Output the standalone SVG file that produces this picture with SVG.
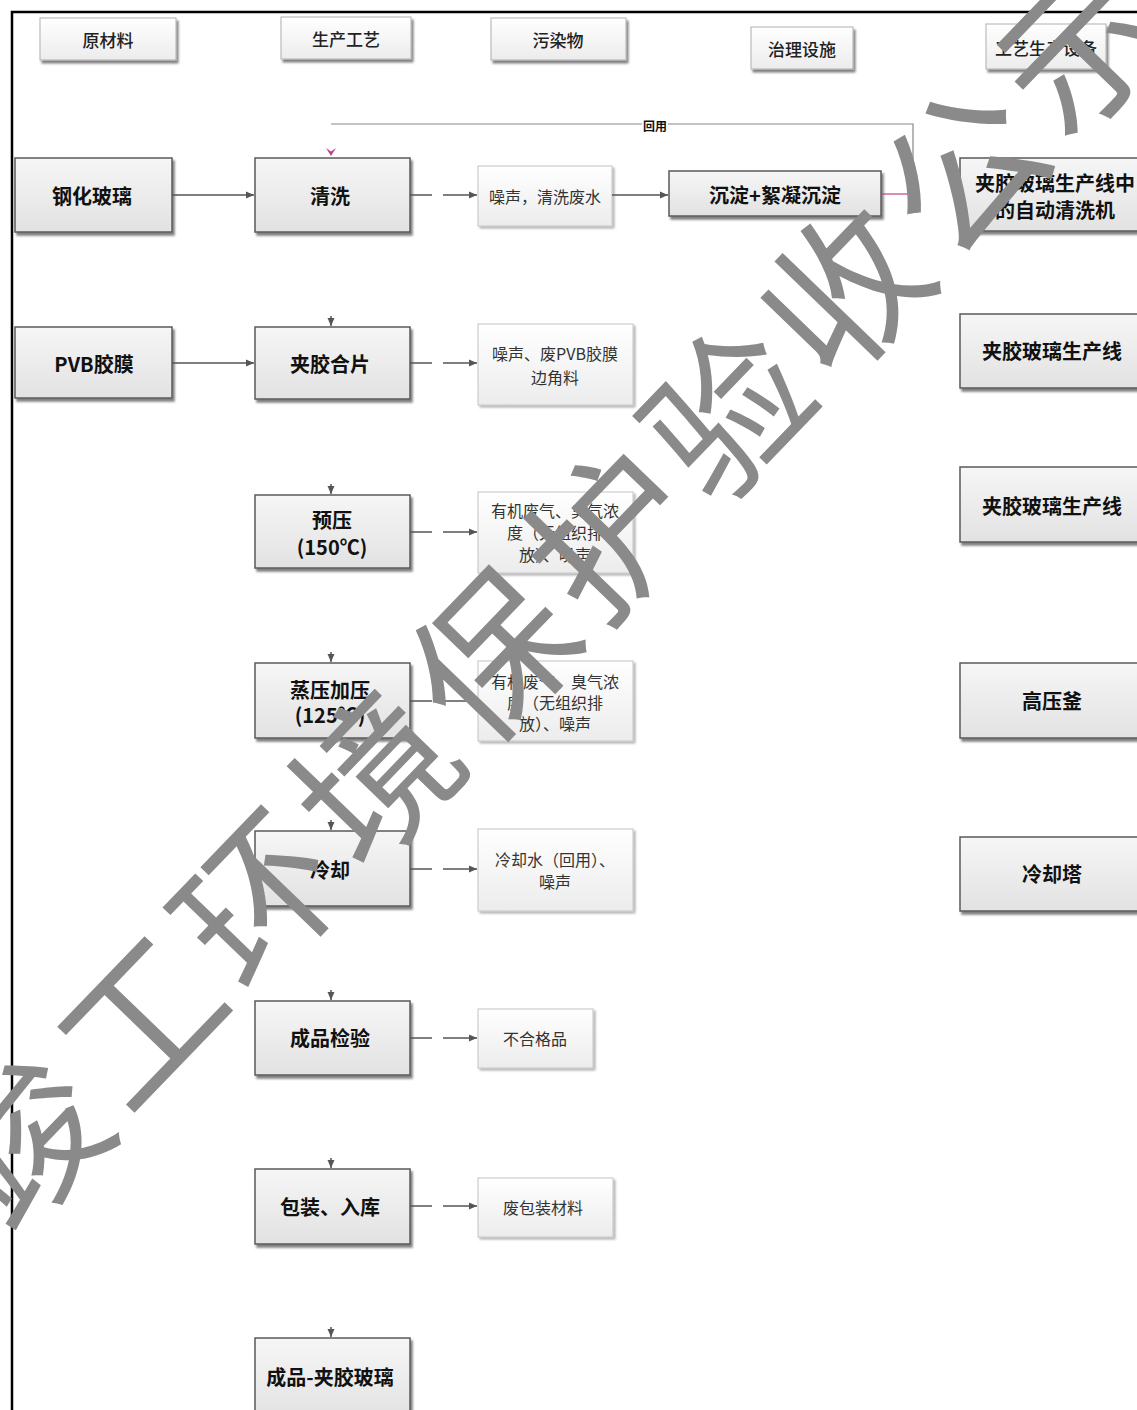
<svg xmlns="http://www.w3.org/2000/svg" width="1137" height="1410" viewBox="0 0 1137 1410">
<style>
.t{font-family:"Noto Sans CJK SC","Liberation Sans",sans-serif;text-anchor:middle;dominant-baseline:central;fill:#111}
.b{font-weight:700;font-size:20px}
.h{font-size:17px;fill:#222;font-weight:500}
.p{font-size:16px;fill:#333}
.proc rect{fill:url(#gp);stroke:#5a5a5a;stroke-width:1.5;filter:url(#sh)}
.pol rect{fill:url(#gw);stroke:#c4c4c4;stroke-width:1;filter:url(#sh2)}
.hdr rect{fill:url(#gw);stroke:#b0b0b0;stroke-width:1;filter:url(#sh)}
.c{fill:none;stroke:#555;stroke-width:1.5}
.d{fill:none;stroke:#555;stroke-width:1.5;stroke-dasharray:22 11 60}
</style>
<defs>
<linearGradient id="gp" x1="0" y1="0" x2="0" y2="1"><stop offset="0" stop-color="#f6f6f6"/><stop offset="1" stop-color="#e2e2e2"/></linearGradient>
<linearGradient id="gw" x1="0" y1="0" x2="0" y2="1"><stop offset="0" stop-color="#ffffff"/><stop offset="1" stop-color="#ececec"/></linearGradient>
<filter id="sh" x="-10%" y="-10%" width="130%" height="130%"><feDropShadow dx="2" dy="3" stdDeviation="1.2" flood-color="#000" flood-opacity="0.5"/></filter>
<filter id="sh2" x="-10%" y="-10%" width="130%" height="130%"><feDropShadow dx="2" dy="2" stdDeviation="1.2" flood-color="#000" flood-opacity="0.3"/></filter>
<marker id="ar" viewBox="0 0 8 8" refX="8" refY="4" markerWidth="8" markerHeight="8" markerUnits="userSpaceOnUse" orient="auto"><path d="M0,0.5 L8,4 L0,7.5 z" fill="#555"/></marker>
<marker id="arp" viewBox="0 0 10 10" refX="5" refY="9" markerWidth="10" markerHeight="10" markerUnits="userSpaceOnUse" orient="0"><path d="M0,1 L5,9 L10,1 L5,4.5 z" fill="#c0408a"/></marker>
</defs>
<rect x="0" y="0" width="1137" height="1410" fill="#fff"/>
<path d="M12,1410 V12 H1137" fill="none" stroke="#000" stroke-width="2.5"/>

<g id="h1" class="hdr"><rect x="40" y="18" width="136" height="42"/><text class="t h" x="108" y="39">原材料</text></g>
<g id="h2" class="hdr"><rect x="281" y="17" width="130" height="42"/><text class="t h" x="346" y="38">生产工艺</text></g>
<g id="h3" class="hdr"><rect x="491" y="18" width="135" height="42"/><text class="t h" x="558" y="39">污染物</text></g>
<g id="h4" class="hdr"><rect x="751" y="27" width="102" height="42"/><text class="t h" x="802" y="48">治理设施</text></g>
<g id="h5" class="hdr"><rect x="986" y="24" width="120" height="45"/><text class="t h" x="1046" y="47">工艺生产设备</text></g>

<g id="r1" class="proc"><rect x="15" y="158" width="157" height="74"/><text class="t b" x="92" y="195">钢化玻璃</text></g>
<g id="r2" class="proc"><rect x="15" y="327" width="157" height="71"/><text class="t b" x="94" y="363">PVB胶膜</text></g>

<g id="s1" class="proc"><rect x="255" y="158" width="155" height="74"/><text class="t b" x="330" y="195">清洗</text></g>
<g id="s2" class="proc"><rect x="255" y="327" width="155" height="72"/><text class="t b" x="330" y="363">夹胶合片</text></g>
<g id="s3" class="proc"><rect x="255" y="495" width="155" height="73"/><text class="t b" x="332" y="519">预压</text><text class="t b" x="332" y="546">(150℃)</text></g>
<g id="s4" class="proc"><rect x="255" y="663" width="155" height="75"/><text class="t b" x="330" y="689">蒸压加压</text><text class="t b" x="330" y="714">(125℃)</text></g>
<g id="s5" class="proc"><rect x="255" y="831" width="155" height="75"/><text class="t b" x="330" y="869">冷却</text></g>
<g id="s6" class="proc"><rect x="255" y="1001" width="155" height="74"/><text class="t b" x="330" y="1037">成品检验</text></g>
<g id="s7" class="proc"><rect x="255" y="1169" width="155" height="75"/><text class="t b" x="330" y="1206">包装、入库</text></g>
<g id="s8" class="proc"><rect x="255" y="1338" width="155" height="80"/><text class="t b" x="330" y="1376">成品-夹胶玻璃</text></g>

<g id="p1" class="pol"><rect x="478" y="166" width="134" height="60"/><text class="t p" x="545" y="196">噪声，清洗废水</text></g>
<g id="p2" class="pol"><rect x="478" y="324" width="155" height="81"/><text class="t p" x="555" y="353">噪声、废PVB胶膜</text><text class="t p" x="555" y="377">边角料</text></g>
<g id="p3" class="pol"><rect x="478" y="492" width="155" height="81"/><text class="t p" x="555" y="510">有机废气、臭气浓</text><text class="t p" x="555" y="532">度（无组织排</text><text class="t p" x="555" y="554">放）、噪声</text></g>
<g id="p4" class="pol"><rect x="478" y="661" width="155" height="80"/><text class="t p" x="555" y="681">有机废气、臭气浓</text><text class="t p" x="555" y="702">度（无组织排</text><text class="t p" x="555" y="723">放）、噪声</text></g>
<g id="p5" class="pol"><rect x="478" y="829" width="155" height="82"/><text class="t p" x="555" y="859">冷却水（回用）、</text><text class="t p" x="555" y="881">噪声</text></g>
<g id="p6" class="pol"><rect x="478" y="1009" width="115" height="59"/><text class="t p" x="535" y="1038">不合格品</text></g>
<g id="p7" class="pol"><rect x="478" y="1178" width="135" height="59"/><text class="t p" x="543" y="1207">废包装材料</text></g>

<g id="t1" class="proc"><rect x="669" y="171" width="212" height="45"/><text class="t b" x="775" y="194">沉淀+絮凝沉淀</text></g>

<g id="e1" class="proc"><rect x="960" y="158" width="190" height="73"/><text class="t b" x="1055" y="182">夹胶玻璃生产线中</text><text class="t b" x="1055" y="209">的自动清洗机</text></g>
<g id="e2" class="proc"><rect x="960" y="314" width="190" height="74"/><text class="t b" x="1052" y="350">夹胶玻璃生产线</text></g>
<g id="e3" class="proc"><rect x="960" y="467" width="190" height="75"/><text class="t b" x="1052" y="505">夹胶玻璃生产线</text></g>
<g id="e4" class="proc"><rect x="960" y="663" width="190" height="75"/><text class="t b" x="1052" y="700">高压釜</text></g>
<g id="e5" class="proc"><rect x="960" y="837" width="190" height="74"/><text class="t b" x="1052" y="873">冷却塔</text></g>

<g id="connectors">
<path class="c" d="M172,195 H254" marker-end="url(#ar)"/>
<path class="c" d="M172,363 H254" marker-end="url(#ar)"/>
<path class="d" d="M410,195 H477" marker-end="url(#ar)"/>
<path class="d" d="M410,363 H477" marker-end="url(#ar)"/>
<path class="d" d="M410,532 H477" marker-end="url(#ar)"/>
<path class="d" d="M410,701 H477" marker-end="url(#ar)"/>
<path class="d" d="M410,869 H477" marker-end="url(#ar)"/>
<path class="d" d="M410,1038 H477" marker-end="url(#ar)"/>
<path class="d" d="M410,1206 H477" marker-end="url(#ar)"/>
<path class="c" d="M612,195 H668" marker-end="url(#ar)"/>
<path d="M881,194 H913" fill="none" stroke="#c0408a" stroke-width="1.2"/>
<path d="M913,194 V124 H331" fill="none" stroke="#888" stroke-width="1.2"/>
<path d="M331,146 V156" fill="none" stroke="none" marker-end="url(#arp)"/>
<rect x="642" y="117" width="26" height="16" fill="#fff"/>
<text class="t" x="655" y="125" font-size="12" font-weight="700">回用</text>
<path class="c" d="M331,316 V326" marker-end="url(#ar)"/>
<path class="c" d="M331,484 V494" marker-end="url(#ar)"/>
<path class="c" d="M331,652 V662" marker-end="url(#ar)"/>
<path class="c" d="M331,820 V830" marker-end="url(#ar)"/>
<path class="c" d="M331,990 V1000" marker-end="url(#ar)"/>
<path class="c" d="M331,1158 V1168" marker-end="url(#ar)"/>
<path class="c" d="M331,1327 V1337" marker-end="url(#ar)"/>
</g>

<g id="watermark">
<text x="598" y="632" transform="rotate(-46 598 632)" font-family="Noto Sans CJK SC, sans-serif" font-size="158" font-weight="400" letter-spacing="11" text-anchor="middle" fill="#8a8a8a">竣工环境保护验收公示</text>
</g>
</svg>
